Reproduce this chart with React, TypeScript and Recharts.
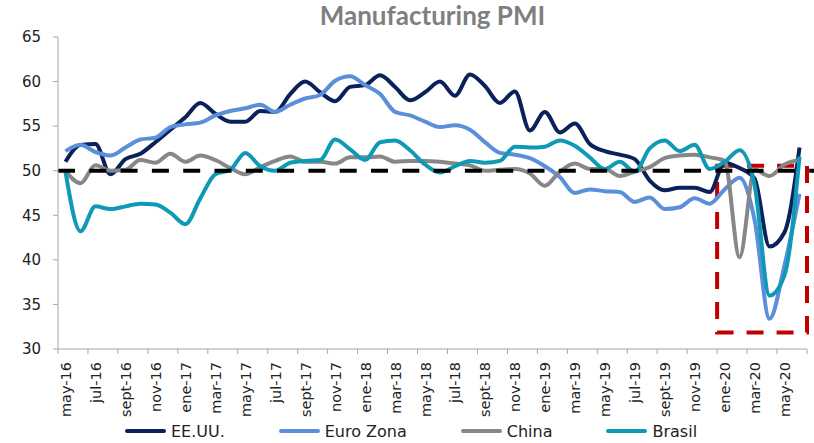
import React from 'react';
import { LineChart, Line, XAxis, YAxis, ReferenceLine, ReferenceArea } from 'recharts';

const months = [
  'may-16', 'jun-16', 'jul-16', 'ago-16', 'sept-16', 'oct-16', 'nov-16', 'dic-16',
  'ene-17', 'feb-17', 'mar-17', 'abr-17', 'may-17', 'jun-17', 'jul-17', 'ago-17', 'sept-17', 'oct-17', 'nov-17', 'dic-17',
  'ene-18', 'feb-18', 'mar-18', 'abr-18', 'may-18', 'jun-18', 'jul-18', 'ago-18', 'sept-18', 'oct-18', 'nov-18', 'dic-18',
  'ene-19', 'feb-19', 'mar-19', 'abr-19', 'may-19', 'jun-19', 'jul-19', 'ago-19', 'sept-19', 'oct-19', 'nov-19', 'dic-19',
  'ene-20', 'feb-20', 'mar-20', 'abr-20', 'may-20', 'jun-20',
];

const usa = [
  51.0, 52.9, 53.0, 49.6, 51.3, 51.9, 53.2, 54.6,
  56.0, 57.6, 56.4, 55.5, 55.5, 56.7, 56.6, 58.6, 60.0, 58.8, 57.8, 59.4,
  59.6, 60.7, 59.4, 57.9, 58.8, 60.0, 58.4, 60.8, 59.5, 57.6, 58.9, 54.5,
  56.6, 54.3, 55.3, 53.0, 52.2, 51.8, 51.3, 48.9, 47.8, 48.1, 48.1, 47.6,
  50.9, 50.3, 49.1, 41.5, 43.1, 52.6,
];

const euro = [
  52.2, 52.9, 52.1, 51.7, 52.6, 53.5, 53.7, 54.9,
  55.2, 55.4, 56.2, 56.7, 57.0, 57.4, 56.6, 57.4, 58.1, 58.5, 60.1, 60.6,
  59.6, 58.6, 56.6, 56.2, 55.5, 54.9, 55.1, 54.6, 53.2, 52.0, 51.8, 51.4,
  50.5, 49.3, 47.5, 47.9, 47.7, 47.6, 46.5, 47.0, 45.7, 45.9, 46.9, 46.3,
  47.9, 49.2, 44.5, 33.4, 39.4, 47.4,
];

const china = [
  50.0, 48.6, 50.6, 50.0, 50.1, 51.2, 50.9, 51.9,
  51.0, 51.7, 51.2, 50.3, 49.6, 50.4, 51.1, 51.6, 51.0, 51.0, 50.8, 51.5,
  51.5, 51.6, 51.0, 51.1, 51.1, 51.0, 50.8, 50.6, 50.0, 50.1, 50.2, 49.7,
  48.3, 49.9, 50.8, 50.2, 50.2, 49.4, 49.9, 50.4, 51.4, 51.7, 51.8, 51.5,
  51.1, 40.3, 50.1, 49.4, 50.7, 51.2,
];

const brasil = [
  49.9, 43.2, 46.0, 45.7, 46.0, 46.3, 46.2, 45.3,
  44.0, 46.9, 49.6, 50.1, 52.0, 50.5, 50.0, 50.9, 51.1, 51.2, 53.5, 52.4,
  51.2, 53.2, 53.4, 52.3, 50.7, 49.8, 50.5, 51.1, 50.9, 51.1, 52.7, 52.6,
  52.7, 53.4, 52.8, 51.5, 50.2, 51.0, 49.9, 52.5, 53.4, 52.2, 52.9, 50.2,
  51.0, 52.3, 48.4, 36.0, 38.3, 51.6,
];

const yTicks = [30, 35, 40, 45, 50, 55, 60, 65];
const threshold = 50;
const highlightStart = 'ene-20';
const highlightEnd = 'jun-20';
const highlightLow = 31.85;
const highlightHigh = 50.55;

const series = [
  { key: 'usa', name: 'EE.UU.', color: '#0A215A', values: usa },
  { key: 'euro', name: 'Euro Zona', color: '#5B8FD9', values: euro },
  { key: 'china', name: 'China', color: '#878787', values: china },
  { key: 'brasil', name: 'Brasil', color: '#0E9AB6', values: brasil },
];

const data = months.map((m, i) => {
  const row: Record<string, any> = { month: m };
  series.forEach((s) => {
    row[s.key] = s.values[i];
  });
  return row;
});

const W = 814;
const H = 443;
const MARGIN = { top: 37, right: 7, left: 8, bottom: 24 };
const Y_AXIS_W = 50;
const PLOT_W = W - MARGIN.left - MARGIN.right - Y_AXIS_W;
const BAND = PLOT_W / months.length;
const FONT = '"DejaVu Sans", sans-serif';
const AXIS_COLOR = '#A6A6A6';
const TEXT_COLOR = '#222222';

const XTick = (props: any) => {
  const { x, y, payload, index } = props;
  const last = index === months.length - 1;
  const showLabel = index % 2 === 0;
  return (
    <g>
      {showLabel && (
        <line x1={x - BAND / 2} y1={y} x2={x - BAND / 2} y2={y + 5} stroke={AXIS_COLOR} strokeWidth={1} />
      )}
      {last && (
        <line x1={x + BAND / 2} y1={y} x2={x + BAND / 2} y2={y + 5} stroke={AXIS_COLOR} strokeWidth={1} />
      )}
      {showLabel && (
        <text
          x={0}
          y={0}
          transform={`translate(${x + 5.5},${y + 13}) rotate(-90)`}
          textAnchor="end"
          fontSize={14.5}
          fontFamily={FONT}
          fill={TEXT_COLOR}
        >
          {payload.value}
        </text>
      )}
    </g>
  );
};

const DashedThreshold = (props: any) => {
  const { x1, y1, x2, y2 } = props;
  return (
    <line
      x1={x1}
      y1={y1}
      x2={x2 + MARGIN.right}
      y2={y2}
      stroke="#000"
      strokeWidth={4}
      strokeDasharray="17 14.3"
    />
  );
};

export default function App() {
  return (
    <div style={{ position: 'absolute', left: 0, top: 0, width: W, height: H, background: '#fff' }}>
      <LineChart width={W} height={H} data={data} margin={MARGIN}>
        <XAxis
          dataKey="month"
          scale="band"
          interval={0}
          tickLine={false}
          tickSize={0}
          tickMargin={0}
          height={70}
          axisLine={{ stroke: AXIS_COLOR, strokeWidth: 1 }}
          tick={<XTick />}
        />
        <YAxis
          domain={[30, 65]}
          ticks={yTicks}
          width={Y_AXIS_W}
          tickSize={5}
          tickMargin={12}
          interval={0}
          axisLine={{ stroke: AXIS_COLOR, strokeWidth: 1 }}
          tickLine={{ stroke: AXIS_COLOR, strokeWidth: 1 }}
          tick={{ fontSize: 15, fontFamily: FONT, fill: TEXT_COLOR }}
        />
        {series.map((s) => (
          <Line
            key={s.key}
            dataKey={s.key}
            name={s.name}
            type="monotone"
            stroke={s.color}
            strokeWidth={4}
            dot={false}
            activeDot={false}
            isAnimationActive={false}
          />
        ))}
        <ReferenceLine y={threshold} stroke="#000" strokeWidth={4} shape={<DashedThreshold />} />
        <ReferenceArea
          x1={highlightStart}
          x2={highlightEnd}
          y1={highlightLow}
          y2={highlightHigh}
          fill="none"
          fillOpacity={0}
          stroke="#C00000"
          strokeWidth={4}
          strokeDasharray="17 13"
        />
      </LineChart>
      <div
        style={{
          position: 'absolute',
          left: 0,
          top: 2,
          width: W,
          textAlign: 'center',
          fontFamily: 'Lato, sans-serif',
          fontWeight: 700,
          fontSize: 26,
          lineHeight: '26px',
          color: '#7F7F7F',
          transform: `translateX(${(Y_AXIS_W + MARGIN.left - MARGIN.right) / 2}px)`,
        }}
      >
        Manufacturing PMI
      </div>
      <div
        style={{
          position: 'absolute',
          left: 4,
          top: 420,
          width: W,
          height: 22,
          display: 'flex',
          justifyContent: 'center',
          alignItems: 'center',
          gap: 54,
          fontFamily: FONT,
          fontSize: 16,
          color: TEXT_COLOR,
        }}
      >
        {series.map((s) => (
          <div key={s.key} style={{ display: 'flex', alignItems: 'center' }}>
            <span style={{ display: 'inline-block', width: 41, height: 4, background: s.color, borderRadius: 2 }} />
            <span style={{ marginLeft: 5 }}>{s.name}</span>
          </div>
        ))}
      </div>
    </div>
  );
}
